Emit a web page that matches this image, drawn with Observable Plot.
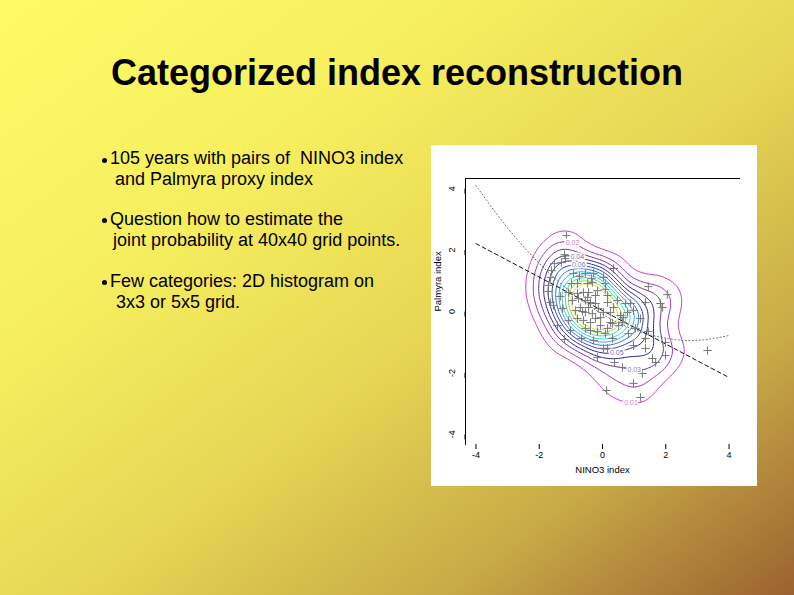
<!DOCTYPE html>
<html><head><meta charset="utf-8">
<script src="https://cdn.jsdelivr.net/npm/d3@7"></script>
<script src="https://cdn.jsdelivr.net/npm/@observablehq/plot@0.6"></script>
<style>
html,body{margin:0;padding:0;}
#slide{position:relative;width:794px;height:595px;overflow:hidden;
 background:linear-gradient(to bottom right,#fefb66 0%,#f6ee5e 30%,#e6d654 55%,#c8aa46 78%,#9a6230 100%);
 font-family:"Liberation Sans",Arial,sans-serif;color:#000;}
#title{position:absolute;left:0;width:794px;top:55px;text-align:center;font-size:36px;line-height:36px;font-weight:bold;}
.line{position:absolute;font-size:18px;line-height:18px;white-space:pre;}
.dot{position:absolute;width:5px;height:5px;border-radius:50%;background:#000;}
#chart{position:absolute;left:431px;top:145px;width:326px;height:341px;background:#fff;}
#chart svg{display:block;}
</style></head>
<body>
<div id="slide">
  <div id="title">Categorized index reconstruction</div>
  <div class="dot" style="left:102px;top:158px"></div>
  <div class="line" style="left:110px;top:149px">105 years with pairs of  NINO3 index</div>
  <div class="line" style="left:115px;top:170px">and Palmyra proxy index</div>
  <div class="dot" style="left:102px;top:218px"></div>
  <div class="line" style="left:110px;top:210px">Question how to estimate the</div>
  <div class="line" style="left:113px;top:231px">joint probability at 40x40 grid points.</div>
  <div class="dot" style="left:102px;top:280px"></div>
  <div class="line" style="left:110px;top:272px">Few categories: 2D histogram on</div>
  <div class="line" style="left:116px;top:293px">3x3 or 5x5 grid.</div>
  <div id="chart"></div>
</div>
<script>
// NINO3 index (x) and Palmyra proxy index (y), 105 years
const nino3 = [-1.14,-1.20,-1.52,-1.30,-1.17,-1.61,-1.64,-1.71,-1.71,-1.64,-1.55,-0.92,-0.73,-0.54,-0.35,-0.28,0.03,0.09,0.35,-0.98,
 -0.79,-0.47,-0.32,-0.16,0.09,0.16,-1.07,-0.79,-0.60,-0.44,-0.22,-0.76,-0.47,-0.54,-0.38,-0.22,0.16,-0.70,-0.44,-1.26,
 -0.85,-0.63,-0.54,-0.32,0.03,0.35,0.57,0.63,0.25,-0.06,-0.79,-0.38,-0.22,0.73,0.79,0.89,0.98,1.36,1.45,1.83,
 1.90,2.05,-1.07,-1.42,-0.54,-0.38,-0.16,0.16,0.09,0.32,0.51,0.66,1.04,1.45,-1.20,-0.66,0.32,0.03,0.16,-0.16,
 0.38,0.63,0.13,0.98,1.36,1.99,1.36,1.99,1.58,1.68,1.26,0.98,1.20,3.32,-0.95,-0.13,0.47,0.25,-1.33,-0.60,
 -0.06,-1.01,0.82,1.20,-0.28];
const palmyra = [2.47,1.85,1.56,1.59,1.72,1.33,1.11,0.85,0.65,0.29,0.20,1.24,1.14,1.24,1.07,1.24,1.11,0.91,1.40,0.91,
 0.91,0.91,0.94,0.68,0.72,0.52,0.62,0.59,0.62,0.62,0.52,0.42,0.46,0.36,0.29,0.26,0.29,0.13,0.13,0.10,
 0.03,0.00,-0.03,-0.07,-0.03,0.13,-0.13,-0.36,-0.36,-0.20,-0.23,-0.36,-0.23,0.26,-0.03,0.26,0.03,0.29,0.81,0.26,
 0.13,0.55,-0.29,-0.46,-0.55,-0.62,-0.65,-0.55,-0.72,-0.39,-0.46,-0.20,-0.55,-0.65,-0.91,-0.88,-0.88,-1.20,-1.20,-1.50,
 -1.66,-1.82,-2.57,-1.11,-0.88,-1.01,-1.20,-1.43,-1.53,-1.66,-2.02,-2.34,-2.80,-1.27,0.36,0.10,0.36,-0.03,0.49,-0.29,
 -0.46,-0.62,-0.72,-0.23,-0.94];
// linear fit (dashed) and curved fit (dotted)
const dashX = [-4, 4];
const dashY = [2.21, -2.15];
const curveX = [-4, -3, -2, -1, 0, 1, 2, 3, 4];
const curveY = [4.1, 2.72, 1.57, 0.63, -0.09, -0.59, -0.87, -0.94, -0.78];
// density contour levels and colours
const levels = [0.01,0.02,0.03,0.04,0.05,0.06,0.07,0.08,0.09,0.10,0.11,0.12];
const contourColors = ["#cc33cc","#a02cb8","#6a2aa0","#2a1e88","#1c2490","#2040c0","#2070e8","#30a8f0",
 "#30d0d8","#40d8a8","#90d850","#e0e040"];
const kernelSd = 0.47;
// contour labels
const labelLevels = [0.02, 0.04, 0.06, 0.05, 0.03, 0.01];
const labelX = [-0.95, -0.79, -0.76, 0.47, 0.98, 0.88];
const labelSide = ["top", "top", "top", "bottom", "bottom", "bottom"];
const xTicks = [-4, -2, 0, 2, 4];
const yTicks = [-4, -2, 0, 2, 4];

const pts = nino3.map((x, i) => ({x, y: palmyra[i]}));
const n = pts.length;
const G = 40, OFF = 6;
const dens = d3.contourDensity()
  .x(d => (d.x + OFF) * G).y(d => (OFF - d.y) * G)
  .size([2 * OFF * G, 2 * OFF * G]).cellSize(2).bandwidth(kernelSd * G)
  .thresholds(levels.map(l => l * n / (G * G)))(pts);
const rows = [];
dens.forEach((c, li) => {
  c.coordinates.forEach((poly, pi) => poly.forEach((ring, ri) => ring.forEach(([px, py]) =>
    rows.push({x: px / G - OFF, y: OFF - py / G, level: levels[li], key: li + "-" + pi + "-" + ri}))));
});
const labels = labelLevels.map((lv, i) => {
  const ring = rows.filter(r => r.level === lv);
  if (!ring.length) return null;
  const cy = d3.mean(ring, r => r.y);
  const side = ring.filter(r => labelSide[i] === "top" ? r.y > cy : r.y < cy);
  const best = d3.least(side, r => Math.abs(r.x - labelX[i]));
  return best ? {x: best.x, y: best.y, text: lv.toFixed(2), level: lv} : null;
}).filter(Boolean);
const dashed = dashX.map((x, i) => ({x, y: dashY[i]}));
const curve = curveX.map((x, i) => ({x, y: curveY[i]}));
const fmt = d => String(d);

const plot = Plot.plot({
  width: 326, height: 341,
  marginLeft: 34, marginRight: 18, marginTop: 33, marginBottom: 42,
  style: {fontFamily: "Liberation Sans, Arial, sans-serif", fontSize: "9px", background: "transparent", color: "#000", overflow: "visible"},
  x: {domain: [-4.33, 4.33]},
  y: {domain: [-4.33, 4.33]},
  color: {type: "ordinal", domain: levels, range: contourColors},
  marks: [
    Plot.line(rows, {x: "x", y: "y", z: "key", stroke: "level", strokeWidth: 1}),
    Plot.line(curve, {x: "x", y: "y", curve: "natural", stroke: "#666", strokeWidth: 1, strokeDasharray: "1,2.5"}),
    Plot.line(dashed, {x: "x", y: "y", stroke: "#111", strokeWidth: 1, strokeDasharray: "4,3"}),
    Plot.dot(pts, {x: "x", y: "y", symbol: "plus", r: 2.8, stroke: "#777", strokeWidth: 1}),
    Plot.text(labels, {x: "x", y: "y", text: "text", fill: "level", fillOpacity: 0.7, fontSize: 7, stroke: "white", strokeWidth: 3}),
    Plot.frame({anchor: "top", stroke: "#000"}),
    Plot.frame({anchor: "left", stroke: "#000"}),
    Plot.axisX({ticks: xTicks, tickFormat: fmt, tickSize: 5, tickPadding: 2, label: null}),
    Plot.axisY({ticks: yTicks, tickFormat: fmt, tickSize: 5, tickPadding: 8, rotate: -90, textAnchor: "middle", label: null}),
    Plot.text(["Palmyra index"], {frameAnchor: "left", dx: -28, rotate: -90, fontSize: 9.5}),
    Plot.text(["NINO3 index"], {frameAnchor: "bottom", dy: 28, fontSize: 9.5})
  ]
});
document.getElementById("chart").appendChild(plot);
</script>
</body></html>
